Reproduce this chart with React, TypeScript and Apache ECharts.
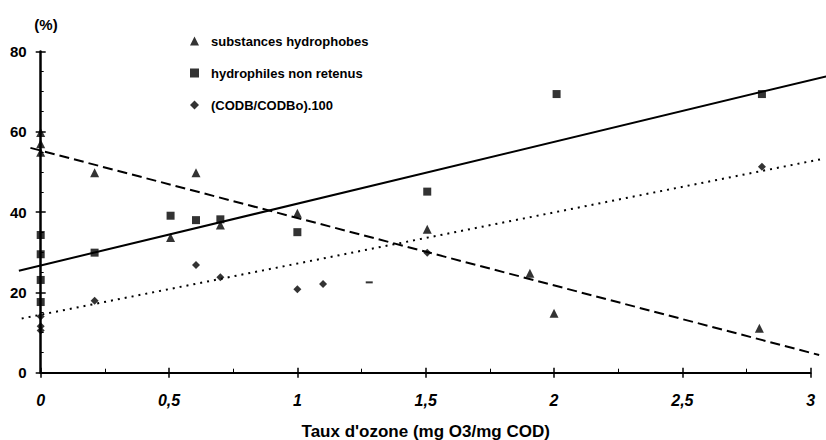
import React, { useEffect, useRef } from "react";
import * as echarts from "echarts";

// x-axis ticks and y-axis ticks
const xTicks = [0, 0.5, 1, 1.5, 2, 2.5, 3];
const yTicks = [0, 20, 40, 60, 80];

// series names
const nameHydrophobes = "substances hydrophobes";
const nameHydrophiles = "hydrophiles non retenus";
const nameCodb = "(CODB/CODBo).100";

// substances hydrophobes (triangles)
const hydrophobesX = [0, 0, 0, 0.21, 0.506, 0.605, 0.7, 1.0, 1.506, 1.906, 2.0, 2.8];
const hydrophobesY = [59.8, 57.0, 54.9, 49.8, 33.7, 49.8, 36.8, 39.7, 35.7, 24.8, 14.8, 11.1];

// hydrophiles non retenus (squares)
const hydrophilesX = [0, 0, 0, 0, 0.21, 0.506, 0.605, 0.7, 1.0, 1.506, 2.01, 2.81];
const hydrophilesY = [34.3, 29.5, 23.1, 17.6, 29.9, 39.1, 38.0, 38.2, 35.0, 45.1, 69.4, 69.4];

// (CODB/CODBo).100 (diamonds)
const codbX = [0, 0, 0, 0.21, 0.605, 0.7, 1.0, 1.1, 1.28, 1.506, 2.81];
const codbY = [14.0, 11.6, 10.5, 17.9, 26.8, 23.8, 20.8, 22.1, 22.5, 29.9, 51.3];

// regression lines (end points; they run past the axes)
const fitHydrophilesX = [-0.085, 3.06];
const fitHydrophilesY = [25.4, 73.8];
const fitHydrophobesX = [-0.04, 3.033];
const fitHydrophobesY = [56.0, 4.4];
const fitCodbX = [-0.074, 3.042];
const fitCodbY = [13.5, 53.2];

const zip = (xs: number[], ys: number[]) => xs.map((x, i) => [x, ys[i]]);

export default function App() {
  const ref = useRef<HTMLDivElement>(null);
  useEffect(() => {
    document.body.style.margin = "0";
    if (!ref.current) return;
    const chart = echarts.init(ref.current, undefined, { renderer: "svg" });
    const font = "'Liberation Sans', Arial, Helvetica, sans-serif";
    const black = "#000";
    const fmt = (v: number) => String(v).replace(".", ",");

    // plot area geometry
    const W = 826;
    const H = 440;
    const gLeft = 40.7;
    const gRight = 15.3;
    const gTop = 51.5;
    const gBottom = 67.3;
    const xMin = xTicks[0];
    const xMax = xTicks[xTicks.length - 1];
    const yMin = yTicks[0];
    const yMax = yTicks[yTicks.length - 1];
    const pxPerX = (W - gLeft - gRight) / (xMax - xMin);
    const pxPerY = (H - gTop - gBottom) / (yMax - yMin);
    // full-canvas overlay grid so that the fit lines can run past the axes
    const oxMin = xMin - gLeft / pxPerX;
    const oxMax = xMax + gRight / pxPerX;
    const oyMin = yMin - gBottom / pxPerY;
    const oyMax = yMax + gTop / pxPerY;

    const codbData = zip(codbX, codbY).map((p) =>
      p[0] === 1.28 ? { value: p, symbol: "rect", symbolSize: [7, 2] } : { value: p }
    );
    const legendText = {
      fontFamily: font,
      fontWeight: "bold",
      fontSize: 13,
      color: black,
      padding: [0, 0, 0, 7],
    };
    chart.setOption({
      animation: false,
      backgroundColor: "#fff",
      textStyle: { fontFamily: font, color: black },
      grid: [
        {
          left: gLeft,
          right: gRight,
          top: gTop,
          bottom: gBottom,
          containLabel: false,
          outerBoundsMode: "none",
        },
        { left: 0, right: 0, top: 0, bottom: 0, containLabel: false, outerBoundsMode: "none" },
      ],
      legend: {
        orient: "vertical",
        left: 190,
        top: 34.5,
        padding: 0,
        itemWidth: 9,
        itemHeight: 9,
        itemGap: 19,
        data: [nameHydrophobes, nameHydrophiles, nameCodb],
        formatter: (name: string) => `{t|${name}}`,
        textStyle: { fontFamily: font, fontWeight: "bold", fontSize: 13, color: black, rich: { t: legendText } },
      },
      xAxis: [
        {
          type: "value",
          gridIndex: 0,
          min: xMin,
          max: xMax,
          interval: 0.5,
          position: "bottom",
          name: "Taux d'ozone (mg O3/mg COD)",
          nameLocation: "middle",
          nameGap: 50,
          nameTextStyle: { fontFamily: font, fontWeight: "bold", fontSize: 17, color: black },
          axisLine: { show: true, lineStyle: { color: black, width: 2 } },
          axisTick: { show: true, inside: true, length: 5, lineStyle: { color: black, width: 1.5 } },
          minorTick: { show: true, splitNumber: 2, length: 4, lineStyle: { color: black, width: 1 } },
          splitLine: { show: false },
          minorSplitLine: { show: false },
          axisLabel: {
            margin: 20,
            fontFamily: font,
            fontWeight: "bold",
            fontStyle: "italic",
            fontSize: 16,
            color: black,
            formatter: fmt,
          },
        },
        {
          type: "value",
          gridIndex: 0,
          min: xMin,
          max: xMax,
          interval: 0.5,
          position: "bottom",
          axisLine: { show: false },
          axisTick: { show: true, inside: false, length: 5, lineStyle: { color: black, width: 1.5 } },
          axisLabel: { show: false },
          splitLine: { show: false },
        },
        {
          type: "value",
          gridIndex: 1,
          min: oxMin,
          max: oxMax,
          show: false,
          splitLine: { show: false },
        },
      ],
      yAxis: [
        {
          type: "value",
          gridIndex: 0,
          min: yMin,
          max: yMax,
          interval: 20,
          position: "left",
          axisLine: { show: true, lineStyle: { color: black, width: 2.5 } },
          axisTick: { show: true, inside: true, length: 5, lineStyle: { color: black, width: 1.5 } },
          minorTick: { show: true, splitNumber: 4, length: 3, lineStyle: { color: black, width: 1 } },
          splitLine: { show: false },
          minorSplitLine: { show: false },
          axisLabel: { margin: 14, fontFamily: font, fontWeight: "bold", fontSize: 15, color: black },
        },
        {
          type: "value",
          gridIndex: 0,
          min: yMin,
          max: yMax,
          interval: 20,
          position: "left",
          axisLine: { show: false },
          axisTick: { show: true, inside: false, length: 5, lineStyle: { color: black, width: 1.5 } },
          axisLabel: { show: false },
          splitLine: { show: false },
        },
        {
          type: "value",
          gridIndex: 1,
          min: oyMin,
          max: oyMax,
          show: false,
          splitLine: { show: false },
        },
      ],
      graphic: [
        {
          type: "text",
          x: 46,
          y: 24,
          style: {
            text: "(%)",
            fontFamily: font,
            fontWeight: "bold",
            fontSize: 15,
            fill: black,
            textAlign: "center",
            textVerticalAlign: "middle",
          },
        },
      ],
      series: [
        {
          type: "line",
          name: "fit-hydrophiles",
          xAxisIndex: 2,
          yAxisIndex: 2,
          data: zip(fitHydrophilesX, fitHydrophilesY),
          clip: false,
          showSymbol: false,
          symbol: "none",
          lineStyle: { color: black, width: 2, type: "solid" },
          silent: true,
          z: 1,
        },
        {
          type: "line",
          name: "fit-hydrophobes",
          xAxisIndex: 2,
          yAxisIndex: 2,
          data: zip(fitHydrophobesX, fitHydrophobesY),
          clip: false,
          showSymbol: false,
          symbol: "none",
          lineStyle: { color: black, width: 2, type: [10, 5] },
          silent: true,
          z: 1,
        },
        {
          type: "line",
          name: "fit-codb",
          xAxisIndex: 2,
          yAxisIndex: 2,
          data: zip(fitCodbX, fitCodbY),
          clip: false,
          showSymbol: false,
          symbol: "none",
          lineStyle: { color: black, width: 2, type: [2, 5] },
          silent: true,
          z: 1,
        },
        {
          type: "scatter",
          name: nameHydrophobes,
          symbol: "triangle",
          symbolSize: 9,
          clip: false,
          itemStyle: { color: black },
          data: zip(hydrophobesX, hydrophobesY),
          z: 3,
        },
        {
          type: "scatter",
          name: nameHydrophiles,
          symbol: "rect",
          symbolSize: 8,
          clip: false,
          itemStyle: { color: black },
          data: zip(hydrophilesX, hydrophilesY),
          z: 3,
        },
        {
          type: "scatter",
          name: nameCodb,
          symbol: "diamond",
          symbolSize: 8,
          clip: false,
          itemStyle: { color: black },
          data: codbData,
          z: 3,
        },
      ],
    });
    return () => chart.dispose();
  }, []);
  return <div ref={ref} style={{ width: 826, height: 440 }} />;
}
